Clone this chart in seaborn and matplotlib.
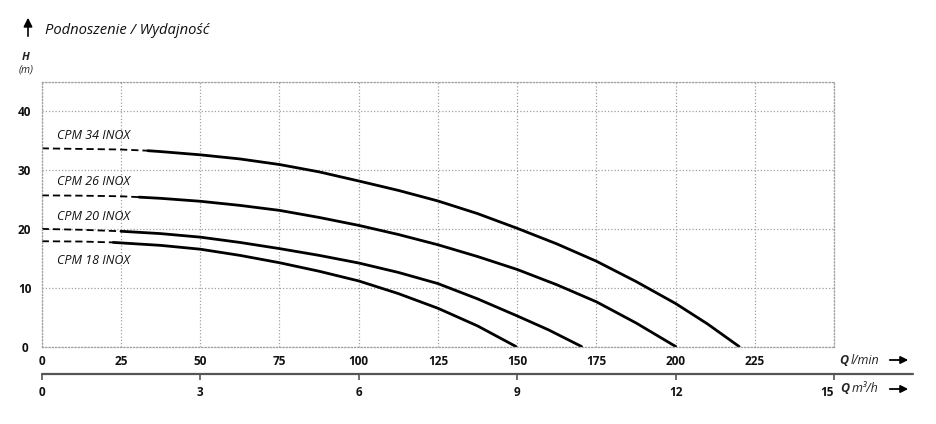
import numpy as np
import matplotlib.pyplot as plt
import pandas as pd
import seaborn as sns

# odczytane punkty krzywych (Q w l/min, H w m)
q_34 = [0, 12.5, 25, 33.5, 37.5, 50, 62.5, 75, 87.5, 100, 112.5, 125, 137.5, 150, 162.5, 175, 187.5, 200, 210, 220]
h_34 = [33.7, 33.6, 33.5, 33.3, 33.15, 32.6, 31.9, 30.95, 29.7, 28.15, 26.55, 24.75, 22.6, 20.1, 17.45, 14.5, 11.05, 7.3, 3.85, 0]

q_26 = [0, 12.5, 25, 30.7, 37.5, 50, 62.5, 75, 87.5, 100, 112.5, 125, 137.5, 150, 162.5, 175, 187.5, 200]
h_26 = [25.7, 25.65, 25.55, 25.4, 25.2, 24.7, 24.0, 23.15, 21.95, 20.6, 19.05, 17.3, 15.3, 13.1, 10.5, 7.6, 4.0, 0]

q_20 = [0, 12.5, 25, 37.5, 50, 62.5, 75, 87.5, 100, 112.5, 125, 137.5, 150, 160, 170.3]
h_20 = [20.0, 19.85, 19.6, 19.2, 18.6, 17.7, 16.65, 15.5, 14.2, 12.6, 10.7, 8.1, 5.2, 2.8, 0]

q_18 = [0, 12.5, 22.6, 37.5, 50, 62.5, 75, 87.5, 100, 112.5, 125, 137.5, 149.6]
h_18 = [17.9, 17.85, 17.7, 17.2, 16.55, 15.5, 14.25, 12.8, 11.15, 9.0, 6.5, 3.5, 0]

# koniec odcinka przerywanego
dash_end = [33.5, 30.7, 25, 22.6]

models = ['CPM 34 INOX', 'CPM 26 INOX', 'CPM 20 INOX', 'CPM 18 INOX']
label_q = [4.8, 4.8, 4.8, 4.8]
label_h = [35.8, 28.1, 22.1, 14.7]

q_ticks = [0, 25, 50, 75, 100, 125, 150, 175, 200, 225, 250]
q_labels = ['0', '25', '50', '75', '100', '125', '150', '175', '200', '225', '']
h_ticks = [0, 10, 20, 30, 40, 45]
h_labels = ['0', '10', '20', '30', '40', '']
m3h_ticks = [0, 3, 6, 9, 12, 15]

sns.set_theme(style='white')
plt.rcParams['font.family'] = ['Open Sans', 'DejaVu Sans']

W, H = 936, 424
def fp(x, y):
    return (x / W, 1 - y / H)

fig = plt.figure(figsize=(W / 100, H / 100), dpi=100)
ax = fig.add_axes([41.7 / W, 1 - 346.5 / H, (834.2 - 41.7) / W, (346.5 - 81.9) / H])

curves = [(q_34, h_34), (q_26, h_26), (q_20, h_20), (q_18, h_18)]
for (q, h), d in zip(curves, dash_end):
    df = pd.DataFrame({'Q': q, 'H': h})
    dashed = df[df['Q'] <= d]
    solid = df[df['Q'] >= d]
    sns.lineplot(data=dashed, x='Q', y='H', color='black', lw=1.3,
                 linestyle=(0, (4, 2.2)), estimator=None, ax=ax)
    sns.lineplot(data=solid, x='Q', y='H', color='black', lw=2.0,
                 estimator=None, solid_joinstyle='round', ax=ax)

for name, x, y in zip(models, label_q, label_h):
    ax.text(x, y, name, style='italic', fontsize=9, va='center', ha='left',
            color='#111111')

ax.set_xlim(0, 250)
ax.set_ylim(0, 45)
ax.set_xticks(q_ticks)
ax.set_xticklabels(q_labels)
ax.set_yticks(h_ticks)
ax.set_yticklabels(h_labels)
ax.set_xlabel('')
ax.set_ylabel('')
ax.grid(True, color='#a0a0a0', linestyle=(0, (1, 1.6)), lw=0.9)
for s in ax.spines.values():
    s.set_color('#a0a0a0')
    s.set_linestyle((0, (1, 1.6)))
    s.set_linewidth(0.9)
ax.tick_params(axis='x', length=0, pad=6, labelsize=8.5, labelcolor='#111111')
ax.tick_params(axis='y', length=0, pad=12.4, labelsize=8.5, labelcolor='#111111')
for t in ax.get_xticklabels() + ax.get_yticklabels():
    t.set_fontweight('bold')
for t in ax.get_yticklabels():
    t.set_ha('center')

# druga oś: m3/h
secax = ax.secondary_xaxis(-0.104, functions=(lambda q: q * 0.06, lambda m: m / 0.06))
secax.set_xticks(m3h_ticks)
secax.spines['bottom'].set_visible(False)
secax.tick_params(direction='out', length=4.5, width=1.2, color='#555555',
                  pad=4, labelsize=8.5, labelcolor='#111111')
for t in secax.get_xticklabels():
    t.set_fontweight('bold')
secax.get_xticklabels()[-1].set_ha('right')
ax.plot([0, 1.1], [-0.104, -0.104], transform=ax.transAxes, clip_on=False,
        color='#555555', lw=1.6)

# opisy osi
fig.text(*fp(839, 360), 'Q', fontsize=9, fontweight='bold', style='italic', va='center')
fig.text(*fp(851, 360), 'l/min', fontsize=9, style='italic', va='center')
fig.text(*fp(840, 389), 'Q', fontsize=9, fontweight='bold', style='italic', va='center')
fig.text(*fp(852, 389), 'm³/h', fontsize=9, style='italic', va='center')
for y in (360, 389):
    ax.annotate('', xy=fp(911, y), xytext=fp(887, y), xycoords='figure fraction',
                textcoords='figure fraction',
                arrowprops=dict(arrowstyle='-|>', color='black', lw=1.3, mutation_scale=11))

ax.annotate('', xy=fp(28, 15), xytext=fp(28, 39), xycoords='figure fraction',
            textcoords='figure fraction',
            arrowprops=dict(arrowstyle='-|>', color='black', lw=1.2, mutation_scale=13))
fig.text(*fp(45, 31), 'Podnoszenie / Wydajność', fontsize=10.6, style='italic',
         va='center', color='#111111')
fig.text(*fp(26, 57), 'H', fontsize=8, fontweight='bold', style='italic',
         ha='center', va='center')
fig.text(*fp(26, 70), '(m)', fontsize=7.5, style='italic', ha='center', va='center')

fig.savefig('out.png', dpi=100)
